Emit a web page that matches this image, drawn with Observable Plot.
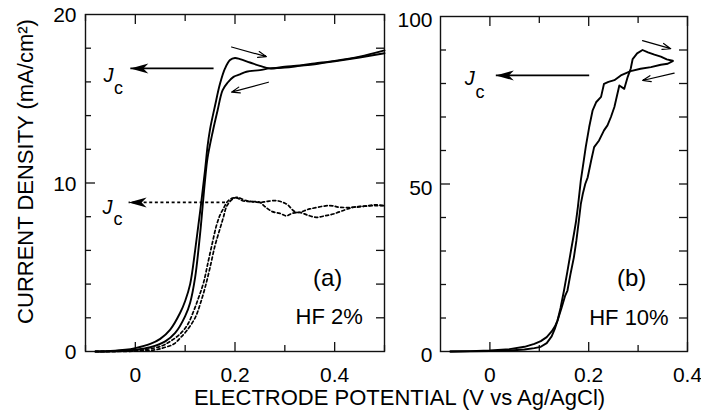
<!DOCTYPE html>
<html><head><meta charset="utf-8">
<script src="https://cdn.jsdelivr.net/npm/d3@7"></script>
<script src="https://cdn.jsdelivr.net/npm/@observablehq/plot@0.6"></script>
<style>
body{margin:0;background:#fff;}
#chart{position:relative;width:701px;height:410px;background:#fff;}
#chart svg{position:absolute;top:0;left:0;}
</style></head><body><div id="chart"></div>
<script>
// ---------- data (potential V, current density mA/cm2) ----------
// Panel (a) HF 2%, solid curves
const aSolidOvershoot = [[-0.08,0],[-0.05,0.03],[-0.02,0.1],[0,0.2],[0.03,0.45],[0.05,0.75],[0.07,1.3],[0.09,2.3],[0.1,3.0],[0.11,4.0],[0.12,6.0],[0.13,8.3],[0.14,10.8],[0.145,12.2],[0.15,13.2],[0.16,14.6],[0.17,15.9],[0.18,16.8],[0.19,17.3],[0.2,17.42],[0.21,17.35],[0.23,17.15],[0.25,16.95],[0.27,16.8],[0.3,16.9],[0.33,16.98],[0.36,17.1],[0.4,17.25],[0.45,17.5],[0.5,17.87]];
const aSolidReturn = [[-0.08,0],[-0.03,0.03],[0,0.1],[0.03,0.25],[0.06,0.6],[0.08,1.1],[0.1,2.1],[0.11,2.9],[0.12,4.4],[0.13,7.0],[0.135,8.6],[0.14,10.2],[0.145,11.5],[0.155,13.0],[0.165,14.3],[0.175,15.5],[0.185,15.95],[0.197,16.3],[0.21,16.45],[0.223,16.6],[0.25,16.7],[0.27,16.8],[0.3,16.85],[0.33,16.95],[0.36,17.05],[0.4,17.22],[0.45,17.45],[0.5,17.7]];
// Panel (a) dotted curves
const aDotted1 = [[-0.08,0],[-0.02,0.03],[0.02,0.12],[0.05,0.3],[0.07,0.6],[0.09,1.05],[0.105,1.6],[0.117,2.4],[0.127,3.2],[0.137,4.1],[0.146,5.3],[0.155,6.5],[0.163,7.5],[0.17,8.1],[0.177,8.5],[0.185,8.9],[0.195,9.1],[0.205,9.1],[0.215,8.95],[0.23,8.9],[0.25,8.85],[0.26,8.6],[0.275,8.3],[0.29,8.2],[0.303,8.05],[0.315,8.2],[0.33,8.25],[0.345,8.1],[0.363,7.96],[0.38,8.05],[0.397,8.16],[0.42,8.4],[0.437,8.56],[0.46,8.62],[0.483,8.66],[0.5,8.65]];
const aDotted2 = [[-0.08,0],[0,0.02],[0.04,0.1],[0.06,0.25],[0.077,0.44],[0.09,0.8],[0.103,1.23],[0.12,2.0],[0.13,2.8],[0.14,3.8],[0.15,5.0],[0.16,6.3],[0.17,7.3],[0.177,8.0],[0.183,8.6],[0.19,8.9],[0.203,9.15],[0.223,8.95],[0.25,8.85],[0.263,8.9],[0.283,8.95],[0.303,8.76],[0.323,8.26],[0.35,8.46],[0.39,8.66],[0.41,8.56],[0.44,8.56],[0.483,8.7],[0.5,8.65]];
// Panel (b) HF 10%
const bForward = [[-0.08,0],[-0.04,0.1],[0,0.3],[0.04,0.7],[0.07,1.4],[0.09,2.3],[0.103,3.1],[0.115,4.3],[0.125,6],[0.132,7.6],[0.137,9.3],[0.145,13],[0.152,16.5],[0.157,18.2],[0.163,23],[0.17,28.1],[0.175,33],[0.18,39],[0.184,44],[0.188,47],[0.193,50],[0.198,52],[0.205,57],[0.211,61],[0.221,63],[0.231,66],[0.238,67.5],[0.245,70],[0.252,73],[0.262,79.4],[0.272,78.4],[0.279,82],[0.285,84.4],[0.289,87.3],[0.298,89],[0.309,90],[0.32,89.3],[0.333,88.6],[0.346,88.0],[0.358,87.2],[0.37,86.8]];
const bReturn = [[-0.08,0],[-0.04,0.05],[0,0.1],[0.04,0.3],[0.07,0.6],[0.09,1.0],[0.103,1.4],[0.115,2.5],[0.125,4.5],[0.132,7],[0.137,9.3],[0.143,13],[0.15,18.2],[0.157,24],[0.164,30],[0.17,35],[0.174,38.5],[0.178,43],[0.181,47],[0.184,51],[0.19,57],[0.194,61],[0.201,67],[0.208,72],[0.215,74.4],[0.225,76],[0.231,79.9],[0.24,80.5],[0.252,81],[0.265,82.4],[0.285,83.7],[0.305,84.4],[0.326,84.9],[0.346,85.6],[0.36,85.9],[0.37,86.7]];
// Jc marker arrows and scan-direction arrows
const aJcSolid = [{x1: 0.157, x2: -0.01, y: 16.8}];
const aJcDotted = [{x1: 0.18, x2: -0.0135, y: 8.85}];
const bJc = [{x1: 0.201, x2: 0.012, y: 82.4}];
const aScanArrows = [{x1:0.193,y1:18.07,x2:0.263,y2:17.5},{x1:0.267,y1:15.98,x2:0.193,y2:15.39}];
const bScanArrows = [{x1:0.309,y1:92.8,x2:0.366,y2:90.4},{x1:0.373,y1:83.1,x2:0.309,y2:80.9}];
// ticks
const aYTicksLabel = [0, 10, 20];
const aYTicksMinor = [2,4,6,8,12,14,16,18];
const aYTicksAll = [2,4,6,8,10,12,14,16,18];
const xTicksLabel = [0, 0.2, 0.4];
const aXTicksMinor = [-0.1, 0.1, 0.3, 0.5];
const bYTicksLabel = [0, 50, 100];
const bYTicksMinor = [10,20,30,40,60,70,80,90];
const bYTicksAll = [10,20,30,40,50,60,70,80,90];
const bXTicksMinor = [0.1, 0.3];

const FONT = '"Liberation Sans", Arial, Helvetica, sans-serif';
const W = 701, H = 410;
const INK = "#111";

const headLeft = {
  draw(ctx, size) {
    const s = Math.sqrt(size / Math.PI) / 8;
    ctx.moveTo(0, 0);
    ctx.lineTo(18 * s, -5 * s);
    ctx.lineTo(13 * s, 0);
    ctx.lineTo(18 * s, 5 * s);
    ctx.closePath();
  }
};

function frameTicks(m, yMajor, yMinor, yRight, xMajor, xMinor) {
  const iw = W - m.right - m.left, ih = H - m.bottom - m.top;
  const st = {stroke: INK, strokeWidth: 1.3};
  return [
    Plot.tickY(yMajor, {y: d => d, insetRight: iw - 10, ...st}),
    Plot.tickY(yMinor, {y: d => d, insetRight: iw - 6, ...st}),
    Plot.tickY(yRight, {y: d => d, insetLeft: iw - 8, ...st}),
    Plot.tickX(xMajor, {x: d => d, insetTop: ih - 9, ...st}),
    Plot.tickX(xMinor, {x: d => d, insetTop: ih - 6, ...st}),
    Plot.tickX(xMajor, {x: d => d, insetBottom: ih - 10, ...st}),
    Plot.tickX(xMinor, {x: d => d, insetBottom: ih - 7, ...st}),
    Plot.frame({stroke: INK, strokeWidth: 1.4})
  ];
}

const mA = {left: 85, right: W - 384, top: 14, bottom: H - 351};
const plotA = Plot.plot({
  width: W, height: H,
  marginLeft: mA.left, marginRight: mA.right, marginTop: mA.top, marginBottom: mA.bottom,
  style: {fontFamily: FONT, fontSize: "21px", background: "white", color: "black"},
  x: {domain: [-0.1, 0.5]},
  y: {domain: [0, 20]},
  marks: [
    ...frameTicks(mA, [10], aYTicksMinor, aYTicksAll, xTicksLabel, aXTicksMinor),
    Plot.axisY(aYTicksLabel, {tickSize: 0, tickPadding: 9, dy: 1, fontSize: 21, label: null, fill: "black"}),
    Plot.axisX(xTicksLabel, {tickSize: 0, tickPadding: 16, fontSize: 21, label: null, fill: "black", tickFormat: d => d === 0 ? "0" : d3.format(".1f")(d)}),
    Plot.line(aDotted1, {x: d => d[0], y: d => d[1], stroke: "black", strokeWidth: 1.7, strokeDasharray: "3,2.6", curve: "catmull-rom"}),
    Plot.line(aDotted2, {x: d => d[0], y: d => d[1], stroke: "black", strokeWidth: 1.7, strokeDasharray: "3,2.6", curve: "catmull-rom"}),
    Plot.line(aSolidOvershoot, {x: d => d[0], y: d => d[1], stroke: "black", strokeWidth: 1.9, curve: "catmull-rom"}),
    Plot.line(aSolidReturn, {x: d => d[0], y: d => d[1], stroke: "black", strokeWidth: 1.9, curve: "catmull-rom"}),
    Plot.link(aJcSolid, {x1: "x1", x2: "x2", y1: "y", y2: "y", stroke: "black", strokeWidth: 1.8}),
    Plot.dot(aJcSolid, {x: "x2", y: "y", symbol: headLeft, r: 8, fill: "black", stroke: "none"}),
    Plot.link(aJcDotted, {x1: "x1", x2: "x2", y1: "y", y2: "y", stroke: "black", strokeWidth: 1.6, strokeDasharray: "3,2.6"}),
    Plot.dot(aJcDotted, {x: "x2", y: "y", symbol: headLeft, r: 8, fill: "black", stroke: "none"}),
    Plot.arrow(aScanArrows, {x1: "x1", y1: "y1", x2: "x2", y2: "y2", stroke: "black", strokeWidth: 1.2, headLength: 11, headAngle: 40}),
    Plot.text(["J"], {x: -0.054, y: 16.35, fontSize: 20, fontStyle: "italic", fill: "black", lineAnchor: "middle"}),
    Plot.text(["c"], {x: -0.034, y: 15.6, fontSize: 18, fill: "black", lineAnchor: "middle"}),
    Plot.text(["J"], {x: -0.056, y: 8.57, fontSize: 20, fontStyle: "italic", fill: "black", lineAnchor: "middle"}),
    Plot.text(["c"], {x: -0.035, y: 7.85, fontSize: 18, fill: "black", lineAnchor: "middle"}),
    Plot.text(["(a)"], {x: 0.386, y: 4.32, fontSize: 24, fill: "black", lineAnchor: "middle"}),
    Plot.text(["HF 2%"], {x: 0.3216, y: 2.04, fontSize: 22, fill: "black", textAnchor: "start", lineAnchor: "middle"}),
    Plot.text(["CURRENT DENSITY (mA/cm²)"], {frameAnchor: "left", dx: 25 - 85, dy: 171 - 182.5, rotate: -90, fontSize: 22, fill: "black", lineAnchor: "middle", textAnchor: "middle"}),
    Plot.text(["ELECTRODE POTENTIAL (V vs Ag/AgCl)"], {frameAnchor: "bottom", dx: 399 - 234.5, dy: 46.5, fontSize: 22, fill: "black", lineAnchor: "middle", textAnchor: "middle"})
  ]
});

const mB = {left: 440, right: W - 687, top: 16, bottom: H - 351};
const plotB = Plot.plot({
  width: W, height: H,
  marginLeft: mB.left, marginRight: mB.right, marginTop: mB.top, marginBottom: mB.bottom,
  style: {fontFamily: FONT, fontSize: "21px", background: "transparent", color: "black"},
  x: {domain: [-0.1, 0.4]},
  y: {domain: [0, 100]},
  marks: [
    ...frameTicks(mB, [50], bYTicksMinor, bYTicksAll, xTicksLabel, bXTicksMinor),
    Plot.axisY(bYTicksLabel, {tickSize: 0, tickPadding: 8, dy: 4, fontSize: 21, label: null, fill: "black"}),
    Plot.axisX(xTicksLabel, {tickSize: 0, tickPadding: 16, fontSize: 21, label: null, fill: "black", tickFormat: d => d === 0 ? "0" : d3.format(".1f")(d)}),
    Plot.line(bForward, {x: d => d[0], y: d => d[1], stroke: "black", strokeWidth: 1.9}),
    Plot.line(bReturn, {x: d => d[0], y: d => d[1], stroke: "black", strokeWidth: 1.9}),
    Plot.link(bJc, {x1: "x1", x2: "x2", y1: "y", y2: "y", stroke: "black", strokeWidth: 1.8}),
    Plot.dot(bJc, {x: "x2", y: "y", symbol: headLeft, r: 8, fill: "black", stroke: "none"}),
    Plot.arrow(bScanArrows, {x1: "x1", y1: "y1", x2: "x2", y2: "y2", stroke: "black", strokeWidth: 1.2, headLength: 11, headAngle: 40}),
    Plot.text(["J"], {x: -0.041, y: 81.5, fontSize: 20, fontStyle: "italic", fill: "black", lineAnchor: "middle"}),
    Plot.text(["c"], {x: -0.020, y: 77.3, fontSize: 18, fill: "black", lineAnchor: "middle"}),
    Plot.text(["(b)"], {x: 0.287, y: 21.8, fontSize: 24, fill: "black", lineAnchor: "middle"}),
    Plot.text(["HF 10%"], {x: 0.201, y: 10.15, fontSize: 22, fill: "black", textAnchor: "start", lineAnchor: "middle"})
  ]
});

const chart = document.getElementById("chart");
chart.appendChild(plotA);
chart.appendChild(plotB);
</script>
</body></html>
